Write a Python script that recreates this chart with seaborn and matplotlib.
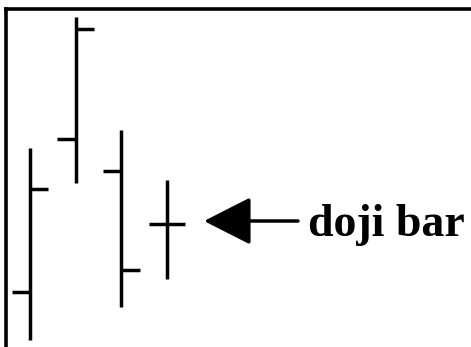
import matplotlib
matplotlib.use("Agg")
import matplotlib.pyplot as plt
import seaborn as sns
import pandas as pd

# OHLC data (price units), one bar per session
sessions = [1, 2, 3, 4]
opens = [55, 208, 176, 123]
highs = [199, 330, 217, 167]
lows = [7, 164, 40, 68]
closes = [158, 318, 77, 123]
label_text = "doji bar"

sns.set_style("white")
plt.rcParams["lines.solid_capstyle"] = "butt"

tick = 0.4
rows = []
seg = 0
for x, o, h, l, c in zip(sessions, opens, highs, lows, closes):
    rows += [dict(x=x, y=l, seg=seg), dict(x=x, y=h, seg=seg)]
    seg += 1
    rows += [dict(x=x - tick, y=o, seg=seg), dict(x=x, y=o, seg=seg)]
    seg += 1
    rows += [dict(x=x, y=c, seg=seg), dict(x=x + tick, y=c, seg=seg)]
    seg += 1
df = pd.DataFrame(rows)

fig = plt.figure(figsize=(4.71, 3.47), dpi=100)
fig.patch.set_facecolor("white")
ax = fig.add_axes([5.5 / 471, 0, 1 - 5.5 / 471, 1 - 8.5 / 347])

sns.lineplot(data=df, x="x", y="y", units="seg", estimator=None,
             color="black", linewidth=2.5, sort=False, ax=ax, legend=False)

ax.set_xlim(0.4605, 10.669)
ax.set_ylim(0, 338.5)
ax.set_xticks([])
ax.set_yticks([])
ax.set_xlabel("")
ax.set_ylabel("")
for side in ["right", "bottom"]:
    ax.spines[side].set_visible(False)
for side in ["left", "top"]:
    ax.spines[side].set_visible(True)
    ax.spines[side].set_color("black")
    ax.spines[side].set_linewidth(2.6)

doji_y = closes[3]
ax.annotate("", xy=(4.814, doji_y + 3), xytext=(6.875, doji_y + 3),
            arrowprops=dict(arrowstyle="-|>,head_length=29.5,head_width=15",
                            mutation_scale=1, color="black", lw=2.5,
                            shrinkA=0, shrinkB=0))
ax.text(7.094, 111, label_text, fontsize=33, fontweight="bold",
        family="Liberation Serif", va="baseline", ha="left", color="black")

fig.savefig("out.png", dpi=100, facecolor="white")
